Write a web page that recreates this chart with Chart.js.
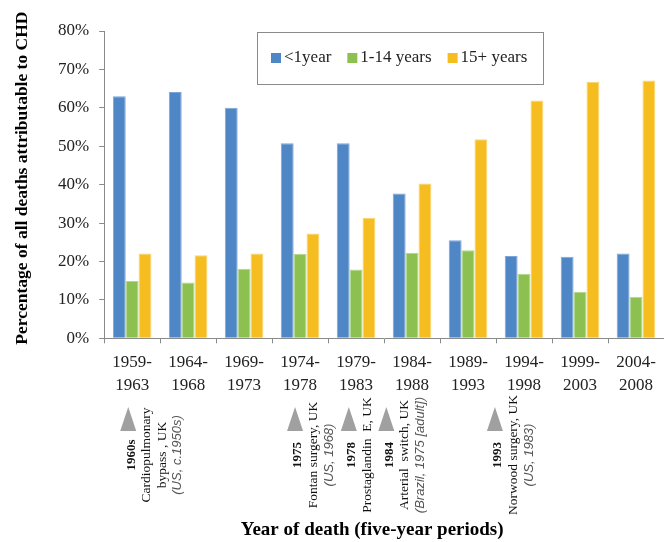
<!DOCTYPE html>
<html>
<head>
<meta charset="utf-8">
<script src="https://cdn.jsdelivr.net/npm/chart.js@4.4.1/dist/chart.umd.min.js"></script>
<style>
  html, body { margin: 0; padding: 0; background: #fff; }
</style>
</head>
<body>
<canvas id="chd" width="664" height="542"></canvas>
<script>
// five-year periods
const periods = [["1959-", "1963"], ["1964-", "1968"], ["1969-", "1973"], ["1974-", "1978"], ["1979-", "1983"],
                 ["1984-", "1988"], ["1989-", "1993"], ["1994-", "1998"], ["1999-", "2003"], ["2004-", "2008"]];
const seriesNames = ["<1year", "1-14 years", "15+ years"];
const under1 = [63, 64.1, 60, 50.8, 50.8, 37.7, 25.5, 21.4, 21.2, 22.1];
const age1to14 = [14.9, 14.5, 18.1, 22.0, 17.9, 22.2, 22.9, 16.8, 12.1, 10.8];
const age15plus = [22.1, 21.6, 22.1, 27.3, 31.4, 40.3, 51.8, 61.9, 66.8, 67.1];
const yMax = 80;
const yStep = 10;

// surgical milestones drawn under the axis (position in category units)
const mileAt = [-0.07, 2.91, 3.87, 4.54, 6.48];
const mileYear = ["1960s", "1975", "1978", "1984", "1993"];
const mileText = [["Cardiopulmonary", "bypass , UK"], ["Fontan surgery, UK"], ["Prostaglandin  E, UK"],
                  ["Arterial  switch, UK"], ["Norwood surgery, UK"]];
const mileFirst = ["(US, c.1950s)", "(US, 1968)", "", "(Brazil, 1975 [adult])", "(US, 1983)"];

const colors = ["#4f86c6", "#8cc152", "#f5bd1f"];
const edges = ["#7ba5d8", "#b2d98a", "#f9d46e"];
const SERIF = "'Liberation Serif', 'Times New Roman', serif";
const NB = "\u00a0";

// legend box + milestones, drawn after the chart
const extras = {
  id: "extras",
  afterDraw(chart) {
    const ctx = chart.ctx;
    const x = chart.scales.x;
    ctx.save();

    // legend inside the plot
    ctx.strokeStyle = "#8a8a8a";
    ctx.lineWidth = 1;
    ctx.strokeRect(257.5, 32.5, 286, 52);
    ctx.font = "17px " + SERIF;
    ctx.textBaseline = "middle";
    ctx.textAlign = "left";
    let lx = 271;
    chart.data.datasets.forEach((ds, i) => {
      ctx.fillStyle = ds.backgroundColor;
      ctx.fillRect(lx, 53, 10, 10);
      ctx.fillStyle = "#222";
      ctx.fillText(ds.label, lx + 13, 58);
      lx += 13 + ctx.measureText(ds.label).width + 16;
    });

    // milestones
    const step = x.getPixelForValue(1) - x.getPixelForValue(0);
    mileAt.forEach((at, i) => {
      const cx = x.getPixelForValue(0) + at * step;
      ctx.fillStyle = "#a0a0a0";
      ctx.beginPath();
      ctx.moveTo(cx, 407);
      ctx.lineTo(cx + 8, 431);
      ctx.lineTo(cx - 8, 431);
      ctx.closePath();
      ctx.fill();

      const lines = [{ t: mileYear[i], f: "bold 13px " + SERIF, c: "#111" }];
      mileText[i].forEach(t => lines.push({ t: t, f: "13.5px " + SERIF, c: "#111" }));
      if (mileFirst[i]) lines.push({ t: mileFirst[i], f: "italic 13px 'Liberation Sans', Arial, sans-serif", c: "#555" });

      lines.forEach((ln, k) => {
        ctx.save();
        ctx.translate(cx + 3 + k * 15.5, 455);
        ctx.rotate(-Math.PI / 2);
        ctx.font = ln.f;
        ctx.fillStyle = ln.c;
        ctx.textAlign = "center";
        ctx.textBaseline = "middle";
        ctx.fillText(ln.t, 0, 0);
        ctx.restore();
      });
    });
    ctx.restore();
  }
};

const makeSet = (label, data, i) => ({
  label: label,
  data: data,
  backgroundColor: colors[i],
  borderColor: edges[i],
  borderWidth: 1,
  categoryPercentage: 0.69,
  barPercentage: 1.0
});

new Chart(document.getElementById("chd"), {
  type: "bar",
  data: {
    labels: periods,
    datasets: [
      makeSet(seriesNames[0], under1, 0),
      makeSet(seriesNames[1], age1to14, 1),
      makeSet(seriesNames[2], age15plus, 2)
    ]
  },
  options: {
    responsive: false,
    animation: false,
    layout: { padding: { top: 31, right: 0, bottom: 1, left: 0 } },
    plugins: {
      legend: { display: false },
      tooltip: { enabled: false }
    },
    scales: {
      x: {
        grid: { drawOnChartArea: false, color: "#8a8a8a", tickLength: 5 },
        border: { color: "#8a8a8a" },
        ticks: { color: "#222", padding: 8, font: { family: SERIF, size: 17, lineHeight: 1.35 }, maxRotation: 0 },
        title: {
          display: true,
          // trailing spaces nudge the title a bit left, like the original
          text: "Year of death (five-year periods)" + NB.repeat(5),
          color: "#000",
          font: { family: SERIF, size: 19, weight: "bold" },
          padding: { top: 113, bottom: 0 }
        }
      },
      y: {
        min: 0,
        max: yMax,
        grid: { drawOnChartArea: false, color: "#8a8a8a", tickLength: 5 },
        border: { color: "#8a8a8a" },
        ticks: {
          stepSize: yStep,
          color: "#222",
          padding: 10,
          font: { family: SERIF, size: 17 },
          callback: v => v + "%"
        },
        title: {
          display: true,
          text: NB.repeat(3) + "Percentage of all deaths attributable to CHD",
          color: "#000",
          font: { family: SERIF, size: 17.5, weight: "bold" },
          padding: { top: 12, bottom: 15 }
        }
      }
    }
  },
  plugins: [extras]
});
</script>
</body>
</html>
